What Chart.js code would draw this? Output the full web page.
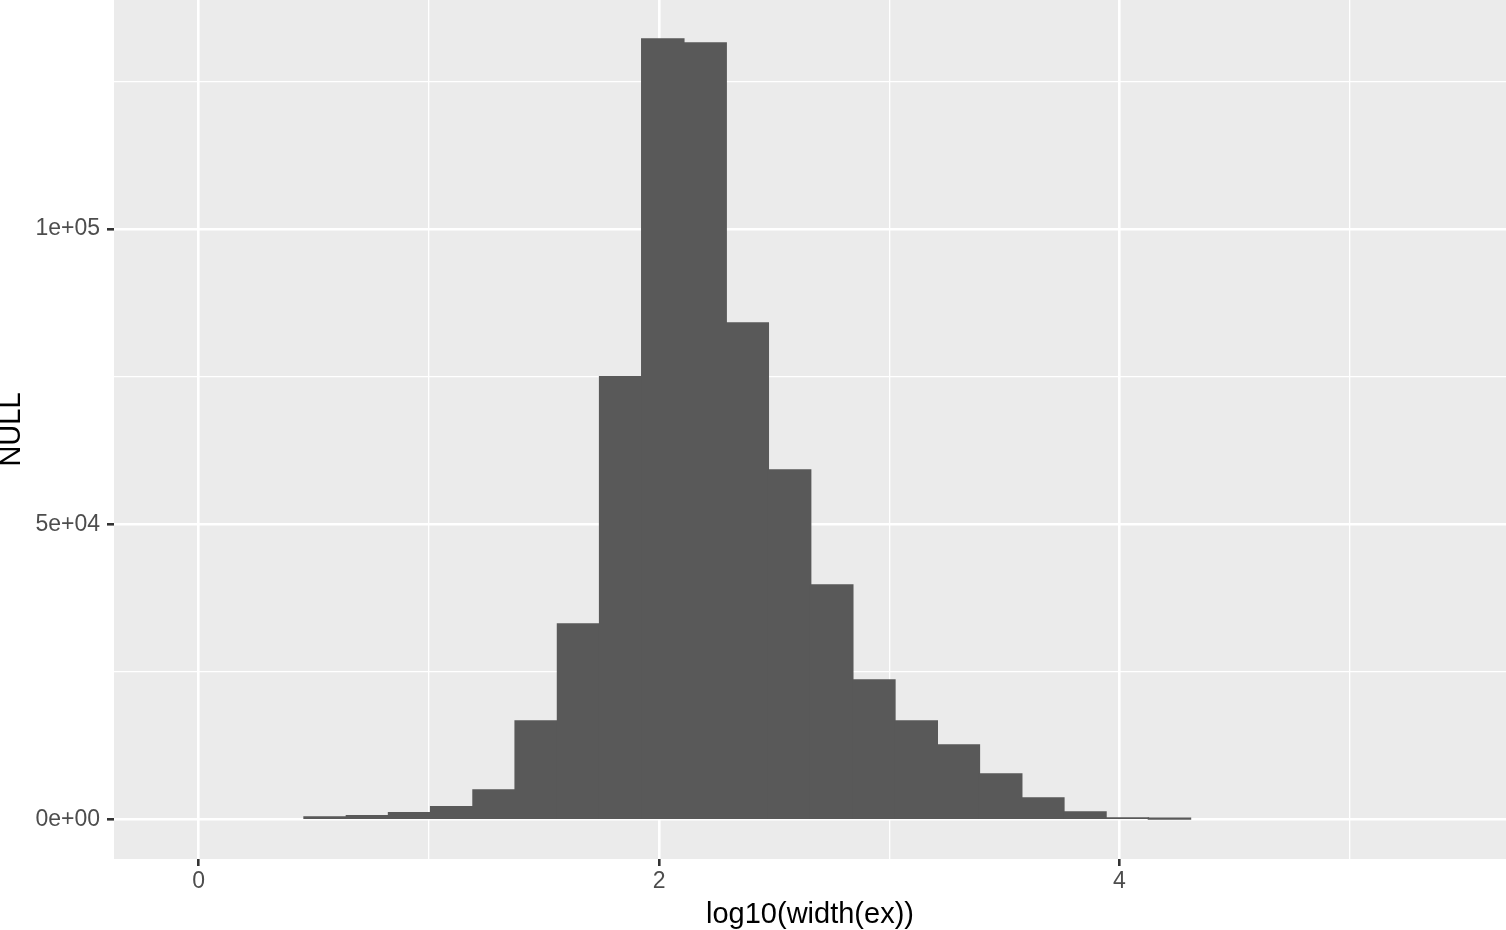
<!DOCTYPE html>
<html>
<head>
<meta charset="utf-8">
<script src="https://cdn.jsdelivr.net/npm/chart.js@4.4.1/dist/chart.umd.min.js"></script>
<style>
  html, body { margin: 0; padding: 0; background: #fff; }
  #wrap { width: 1506px; height: 930px; position: relative; }
</style>
</head>
<body>
<div id="wrap"><canvas id="hist"></canvas></div>
<script>
// histogram bins (centres on log10 scale) and counts
const binCenters = [0.549, 0.733, 0.916, 1.099, 1.283, 1.466, 1.650, 1.833, 2.016, 2.200, 2.383,
  2.567, 2.750, 2.933, 3.117, 3.300, 3.484, 3.667, 3.850, 4.034, 4.217]
const counts = [420, 640, 1150, 2170, 5000, 16680, 33110, 74990, 132170, 131500, 84080,
  59190, 39710, 23620, 16680, 12620, 7700, 3640, 1270, 250, 85]
// grid breaks (major ones get labels)
const xBreaks = [0, 1, 2, 3, 4, 5]
const yBreaks = [0, 25000, 50000, 75000, 100000, 125000]
const xTickLabels = { 0: '0', 2: '2', 4: '4' }
const yTickLabels = { 0: '0e+00', 50000: '5e+04', 100000: '1e+05' }

const panelBg = {
  id: 'panelBg',
  beforeDraw (chart) {
    const { ctx, chartArea: a } = chart
    ctx.save()
    ctx.fillStyle = '#EBEBEB'
    ctx.fillRect(a.left, a.top, a.right - a.left, a.bottom - a.top)
    ctx.restore()
  }
}

const isMajorX = c => !!c.tick && xTickLabels[c.tick.value] !== undefined
const isMajorY = c => !!c.tick && yTickLabels[c.tick.value] !== undefined

new Chart(document.getElementById('hist'), {
  type: 'bar',
  data: {
    datasets: [{
      data: binCenters.map((x, i) => ({ x, y: counts[i] })),
      backgroundColor: '#595959',
      borderWidth: 0,
      inflateAmount: 0.7, // hide seams between neighbouring bins
      barPercentage: 1,
      categoryPercentage: 1
    }]
  },
  plugins: [panelBg],
  options: {
    responsive: true,
    maintainAspectRatio: false,
    animation: false,
    layout: { padding: 0 },
    plugins: { legend: { display: false }, tooltip: { enabled: false } },
    scales: {
      x: {
        type: 'linear',
        min: -0.368,
        max: 5.679,
        offset: false,
        afterBuildTicks: s => { s.ticks = xBreaks.map(value => ({ value })) },
        afterFit: s => {
          s.height = 71
          s.paddingLeft = 0
          s.paddingRight = 0
        },
        border: { display: false },
        grid: {
          offset: false,
          color: '#FFFFFF',
          lineWidth: c => isMajorX(c) ? 2.6 : 1.3,
          tickLength: 7,
          tickWidth: 2.6,
          tickColor: c => isMajorX(c) ? '#333333' : 'rgba(0,0,0,0)'
        },
        ticks: {
          autoSkip: false,
          maxRotation: 0,
          padding: 2,
          color: '#4D4D4D',
          font: { family: 'Liberation Sans', size: 23 },
          callback: v => xTickLabels[v] ?? ''
        },
        title: {
          display: true,
          text: 'log10(width(ex))',
          color: '#000000',
          font: { family: 'Liberation Sans', size: 29, lineHeight: 1 },
          padding: { top: 0, bottom: 1 }
        }
      },
      y: {
        type: 'linear',
        min: -6690,
        max: 138780,
        afterBuildTicks: s => { s.ticks = yBreaks.map(value => ({ value })) },
        afterFit: s => {
          s.width = 114
          s.paddingTop = 0
          s.paddingBottom = 0
        },
        border: { display: false },
        grid: {
          color: '#FFFFFF',
          lineWidth: c => isMajorY(c) ? 2.6 : 1.3,
          tickLength: 7,
          tickWidth: 2.6,
          tickColor: c => isMajorY(c) ? '#333333' : 'rgba(0,0,0,0)'
        },
        ticks: {
          autoSkip: false,
          padding: 7,
          color: '#4D4D4D',
          font: { family: 'Liberation Sans', size: 23 },
          callback: v => yTickLabels[v] ?? ''
        },
        title: {
          display: true,
          text: 'NULL',
          color: '#000000',
          font: { family: 'Liberation Sans', size: 29, lineHeight: 1 },
          padding: { top: -2.5, bottom: 0 }
        }
      }
    }
  }
})
</script>
</body>
</html>
